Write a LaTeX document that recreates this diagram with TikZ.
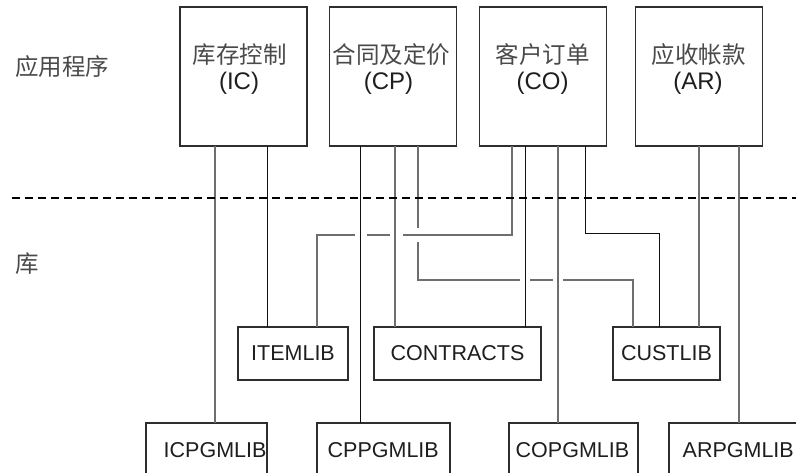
\documentclass[tikz,border=0pt]{standalone}
\usepackage{fontspec}
\setmainfont{Liberation Sans}
\newfontfamily\cjk{Noto Sans CJK SC}
\definecolor{lngray}{HTML}{6E6E6E}
\definecolor{lnblack}{HTML}{111111}
\definecolor{boxline}{HTML}{2E2E2E}
\definecolor{txt}{HTML}{1E1E1E}
\definecolor{cjktxt}{HTML}{4A4A4A}
\tikzset{
  topbox/.style={draw=boxline, line width=1.1pt, inner sep=0pt, outer sep=0pt, minimum width=127pt, minimum height=139pt},
  libbox/.style={draw=boxline, line width=1.1pt, inner sep=0pt, outer sep=0pt, minimum height=53pt, text=txt, font=\fontsize{21.5}{24}\selectfont},
  pgmbox/.style={draw=boxline, line width=1.1pt, inner sep=0pt, outer sep=0pt, minimum height=80pt},
  pgmtext/.style={anchor=west, inner sep=0pt, text=txt, font=\fontsize{21.5}{24}\selectfont},
  cjklabel/.style={inner sep=0pt, text=cjktxt, font=\cjk\fontsize{23.5}{26}\selectfont},
  latlabel/.style={inner sep=0pt, text=txt, font=\fontsize{24}{26}\selectfont},
  gl/.style={draw=lngray, line width=1.1pt},
  bl/.style={draw=lnblack, line width=0.95pt},
  sep/.style={draw=black, line width=1.5pt, dash pattern=on 8pt off 5pt}
}
\begin{document}
\begin{tikzpicture}[x=1pt,y=-1pt]
\clip (0,0) rectangle (796,473);
\fill[white] (0,0) rectangle (796,473);

% side labels
\node[cjklabel, anchor=west] (lapp) at (15,67) {应用程序};
\node[cjklabel, anchor=west] (llib) at (15,264) {库};

% top boxes
\node[topbox] (IC) at (243.5,76.5) {};
\node[topbox] (CP) at (393,76.5) {};
\node[topbox] (CO) at (543,76.5) {};
\node[topbox] (AR) at (699,76.5) {};
\node[cjklabel] (ICa) at (239.5,55) {库存控制};
\node[latlabel] (ICb) at (239,83) {(IC)};
\node[cjklabel] (CPa) at (391.5,55) {合同及定价};
\node[latlabel] (CPb) at (388.5,83) {(CP)};
\node[cjklabel] (COa) at (542.5,55) {客户订单};
\node[latlabel] (COb) at (542.5,83) {(CO)};
\node[cjklabel] (ARa) at (698.5,55) {应收帐款};
\node[latlabel] (ARb) at (698,83) {(AR)};

% middle boxes
\node[libbox, minimum width=110pt] (ITEM) at (293,353.5) {ITEMLIB};
\node[libbox, minimum width=167pt] (CONT) at (457.5,353.5) {CONTRACTS};
\node[libbox, minimum width=107pt] (CUST) at (666.5,353.5) {CUSTLIB};

% bottom boxes
\node[pgmbox, minimum width=121pt] (ICPG) at (206.5,463) {};
\node[pgmbox, minimum width=133pt] (CPPG) at (383.5,463) {};
\node[pgmbox, minimum width=129pt] (COPG) at (573.5,463) {};
\node[pgmbox, minimum width=160pt] (ARPG) at (749,463) {};
\node[pgmtext] (ICPGt) at (163.5,450) {ICPGMLIB};
\node[pgmtext] (CPPGt) at (327.5,450) {CPPGMLIB};
\node[pgmtext] (COPGt) at (515.5,450) {COPGMLIB};
\node[pgmtext] (ARPGt) at (682.5,450) {ARPGMLIB};

% x positions of connectors
\foreach \xx in {215,267,317,360,395,418,512,525,558,585,633,659,699,739}
  \coordinate (v\xx) at (\xx,0);

% connectors
\draw[gl] (IC.south -| v215) -- (ICPG.north -| v215);
\draw[bl] (IC.south -| v267) -- (ITEM.north -| v267);
\draw[bl] (CP.south -| v360) -- (CPPG.north -| v360);
\draw[gl] (CP.south -| v395) -- (CONT.north -| v395);
\draw[gl] (CP.south -| v418) -- (418,228) (418,242) -- (418,280) -- (520,280)
          (530,280) -- (553,280) (563,280) -- (633,280) -- (CUST.north -| v633);
\draw[gl] (CO.south -| v512) -- (512,235) -- (403,235) (390,235) -- (367,235)
          (355,235) -- (317,235) -- (ITEM.north -| v317);
\draw[bl] (CO.south -| v525) -- (CONT.north -| v525);
\draw[gl] (CO.south -| v558) -- (COPG.north -| v558);
\draw[bl] (CO.south -| v585) -- (585,233) -- (659,233) -- (CUST.north -| v659);
\draw[gl] (AR.south -| v699) -- (CUST.north -| v699);
\draw[gl] (AR.south -| v739) -- (ARPG.north -| v739);

% separator
\coordinate (sepL) at (12,198);
\coordinate (sepR) at (800,198);
\draw[sep] (sepL) -- (sepR);
\end{tikzpicture}
\end{document}
